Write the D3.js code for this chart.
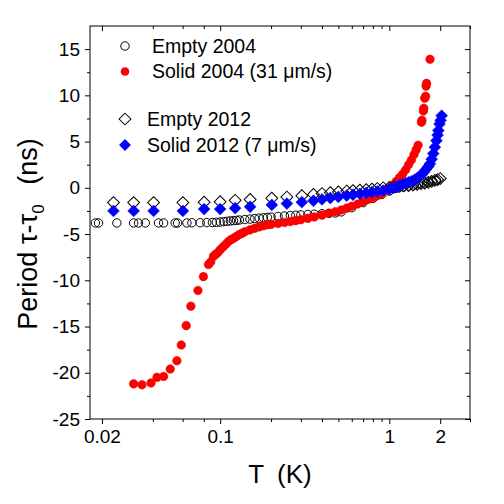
<!DOCTYPE html>
<html><head><meta charset="utf-8">
<script src="https://cdn.jsdelivr.net/npm/d3@7"></script>
<style>
body{margin:0;background:#fff;}
svg{font-family:"Liberation Sans",Arial,sans-serif;}
</style></head>
<body><svg id="c" width="504" height="504"></svg>
<script>
// ---- data ----
const empty2004T = [0.0183,0.0191,0.0245,0.0308,0.0329,0.0361,0.0432,0.0463,0.0542,0.056,0.0636,0.068,0.0762,0.0834,0.09,0.095,0.1,0.105,0.11,0.115,0.12,0.125,0.13,0.14,0.15,0.16,0.17,0.18,0.19,0.2,0.22,0.24,0.26,0.28,0.3,0.33,0.36,0.4,0.44,0.48,0.52,0.6,0.7,0.8,0.9,1.0,1.1,1.2,1.3,1.4,1.5,1.6,1.7,1.8,1.9];
const empty2004V = [-3.8,-3.8,-3.8,-3.8,-3.8,-3.8,-3.8,-3.8,-3.8,-3.8,-3.8,-3.78,-3.77,-3.76,-3.75,-3.73,-3.7,-3.66,-3.62,-3.58,-3.55,-3.52,-3.48,-3.43,-3.38,-3.33,-3.28,-3.24,-3.2,-3.17,-3.1,-3.05,-3.0,-2.96,-2.93,-2.88,-2.85,-2.8,-2.77,-2.72,-2.6,-2.15,-1.6,-1.15,-0.72,-0.35,-0.05,0.1,0.2,0.3,0.42,0.52,0.62,0.72,0.82];

const solid2004T = [0.0308,0.0345,0.039,0.0423,0.0463,0.0507,0.0555,0.0589,0.063,0.0671,0.0739,0.0796,0.0853,0.088,0.0913,0.094,0.097,0.1,0.104,0.108,0.112,0.116,0.12,0.125,0.13,0.135,0.14,0.15,0.16,0.17,0.18,0.19,0.2,0.22,0.24,0.26,0.28,0.3,0.33,0.36,0.4,0.44,0.48,0.52,0.56,0.6,0.65,0.7,0.75,0.8,0.85,0.9,0.95,1.0,1.05,1.1,1.15,1.2,1.25,1.3,1.35,1.4,1.44,1.48,1.55,1.56,1.59,1.6,1.62,1.64,1.65,1.66,1.74];
const solid2004V = [-21.2,-21.3,-21.1,-20.5,-20.4,-19.6,-18.7,-17.0,-14.9,-12.8,-11.1,-9.6,-8.3,-8.0,-7.4,-7.2,-7.0,-6.7,-6.4,-6.1,-5.8,-5.6,-5.45,-5.25,-5.05,-4.9,-4.75,-4.55,-4.38,-4.22,-4.1,-4.0,-3.95,-3.85,-3.75,-3.65,-3.55,-3.45,-3.3,-3.15,-2.95,-2.75,-2.58,-2.4,-2.2,-2.0,-1.75,-1.5,-1.25,-1.05,-0.85,-0.65,-0.35,-0.05,0.3,0.7,1.1,1.5,1.95,2.5,3.0,3.6,4.1,4.6,7.1,7.3,8.3,8.6,9.7,9.9,11.0,11.3,13.9];

const empty2012T = [0.0234,0.0308,0.0404,0.0602,0.0804,0.1,0.1226,0.1504,0.202,0.248,0.304,0.356,0.4,0.448,0.5,0.56,0.61,0.67,0.73,0.79,0.85,0.92,1.0,1.07,1.15,1.22,1.3,1.38,1.46,1.54,1.62,1.7,1.78,1.86,1.93,2.0];
const empty2012V = [-1.6,-1.6,-1.6,-1.6,-1.55,-1.5,-1.35,-1.25,-1.12,-1.0,-0.85,-0.72,-0.62,-0.52,-0.45,-0.35,-0.3,-0.25,-0.2,-0.14,-0.08,0.0,0.05,0.1,0.15,0.2,0.25,0.3,0.38,0.45,0.52,0.6,0.7,0.8,0.9,1.0];

const solid2012T = [0.0234,0.0308,0.0404,0.0602,0.0804,0.1,0.1226,0.1504,0.202,0.248,0.304,0.356,0.4,0.448,0.5,0.56,0.61,0.67,0.73,0.79,0.85,0.92,1.0,1.05,1.1,1.15,1.2,1.25,1.3,1.35,1.4,1.45,1.5,1.55,1.6,1.65,1.7,1.74,1.78,1.82,1.86,1.9,1.93,1.95,1.98,2.01,2.04];
const solid2012V = [-2.5,-2.5,-2.5,-2.5,-2.3,-2.3,-2.2,-2.05,-1.85,-1.7,-1.55,-1.4,-1.25,-1.1,-0.98,-0.85,-0.75,-0.65,-0.55,-0.47,-0.4,-0.3,-0.15,-0.03,0.1,0.25,0.38,0.5,0.6,0.7,0.82,1.0,1.2,1.4,1.7,2.0,2.3,2.6,3.1,3.7,4.4,5.1,5.7,6.2,6.9,7.3,7.8];

const xMajorTicks = [0.02,0.1,1,2];
const xMinorTicks = [0.04,0.06,0.08,0.2,0.3,0.4,0.5,0.6,0.7,0.8,0.9,3];
const yMajorTicks = [-25,-20,-15,-10,-5,0,5,10,15];
const yMinorTicks = [-22.5,-17.5,-12.5,-7.5,-2.5,2.5,7.5,12.5];

// ---- layout ----
const svg = d3.select("#c");
const L=90,R=470,T=26,B=419;
const x = d3.scaleLog().domain([0.017,3.0]).range([L,R]);
const y = d3.scaleLinear().domain([-25,17.5]).range([B,T]);

function styleAxis(g){
  g.select(".domain").remove();
  g.selectAll("line").attr("stroke","#000").attr("stroke-width",1);
  g.selectAll("text").attr("fill","#000").attr("font-size",19);
}
const fmt = d=>String(d);
// bottom
svg.append("g").attr("transform",`translate(0,${B})`).call(d3.axisBottom(x).tickValues(xMajorTicks).tickSize(5).tickPadding(6).tickFormat(fmt)).call(styleAxis);
svg.append("g").attr("transform",`translate(0,${B})`).call(d3.axisBottom(x).tickValues(xMinorTicks).tickSize(3).tickFormat("")).call(styleAxis);
// top (inward)
svg.append("g").attr("transform",`translate(0,${T})`).call(d3.axisTop(x).tickValues(xMajorTicks).tickSize(-5).tickFormat("")).call(styleAxis);
svg.append("g").attr("transform",`translate(0,${T})`).call(d3.axisTop(x).tickValues(xMinorTicks).tickSize(-3).tickFormat("")).call(styleAxis);
// left
svg.append("g").attr("transform",`translate(${L},0)`).call(d3.axisLeft(y).tickValues(yMajorTicks).tickSize(5).tickPadding(5).tickFormat(fmt)).call(styleAxis);
svg.append("g").attr("transform",`translate(${L},0)`).call(d3.axisLeft(y).tickValues(yMinorTicks).tickSize(3).tickFormat("")).call(styleAxis);
// right (inward)
svg.append("g").attr("transform",`translate(${R},0)`).call(d3.axisRight(y).tickValues(yMajorTicks).tickSize(-5).tickFormat("")).call(styleAxis);
svg.append("g").attr("transform",`translate(${R},0)`).call(d3.axisRight(y).tickValues(yMinorTicks).tickSize(-3).tickFormat("")).call(styleAxis);

svg.append("rect").attr("x",L).attr("y",T).attr("width",R-L).attr("height",B-T)
  .attr("fill","none").attr("stroke","#000").attr("stroke-width",1);

// ---- marks ----
const plot = svg.append("g");
const diamond = d3.symbol().type(d3.symbolSquare).size(70);
function zip(a,b){return a.map((t,i)=>({t,v:b[i]}));}

plot.selectAll(".e04").data(zip(empty2004T,empty2004V)).join("circle")
  .attr("cx",d=>x(d.t)).attr("cy",d=>y(d.v)).attr("r",4.2)
  .attr("fill","none").attr("stroke","#000").attr("stroke-width",1);
plot.selectAll(".s04").data(zip(solid2004T,solid2004V)).join("circle")
  .attr("cx",d=>x(d.t)).attr("cy",d=>y(d.v)).attr("r",4.3)
  .attr("fill","#f00").attr("stroke","#e00000").attr("stroke-width",0.5);
plot.selectAll(".e12").data(zip(empty2012T,empty2012V)).join("path")
  .attr("d",diamond).attr("transform",d=>`translate(${x(d.t)},${y(d.v)}) rotate(45)`)
  .attr("fill","none").attr("stroke","#000").attr("stroke-width",1);
plot.selectAll(".s12").data(zip(solid2012T,solid2012V)).join("path")
  .attr("d",diamond).attr("transform",d=>`translate(${x(d.t)},${y(d.v)}) rotate(45)`)
  .attr("fill","#0000ff").attr("stroke","#0000e0").attr("stroke-width",0.5);

// ---- legend ----
const lg = svg.append("g").attr("font-size",19.5).attr("fill","#000");
lg.append("circle").attr("cx",125).attr("cy",46).attr("r",4.2).attr("fill","none").attr("stroke","#000");
lg.append("text").attr("x",152).attr("y",46).attr("dy","0.35em").text("Empty 2004");
lg.append("circle").attr("cx",125).attr("cy",71.5).attr("r",4.3).attr("fill","#f00");
lg.append("text").attr("x",152).attr("y",71.5).attr("dy","0.35em").text("Solid 2004 (31 \u03BCm/s)");
lg.append("path").attr("d",diamond).attr("transform","translate(125,119) rotate(45)").attr("fill","none").attr("stroke","#000");
lg.append("text").attr("x",147).attr("y",119).attr("dy","0.35em").text("Empty 2012");
lg.append("path").attr("d",diamond).attr("transform","translate(125,145) rotate(45)").attr("fill","#00f");
lg.append("text").attr("x",147).attr("y",145).attr("dy","0.35em").text("Solid 2012 (7 \u03BCm/s)");

// ---- axis titles ----
const xt = svg.append("text").attr("x",280).attr("y",483).attr("text-anchor","middle").attr("font-size",26).attr("fill","#000");
xt.append("tspan").text("T");
xt.append("tspan").attr("dx",6).text(" (K)");

const yt = svg.append("text").attr("transform","translate(37,234) rotate(-90)").attr("text-anchor","middle").attr("font-size",27).attr("fill","#000");
yt.append("tspan").text("Period \u03C4-\u03C4");
yt.append("tspan").attr("font-size",17).attr("dy",7).text("0");
yt.append("tspan").attr("dy",-7).attr("dx",12).text(" (ns)");
</script></body></html>
